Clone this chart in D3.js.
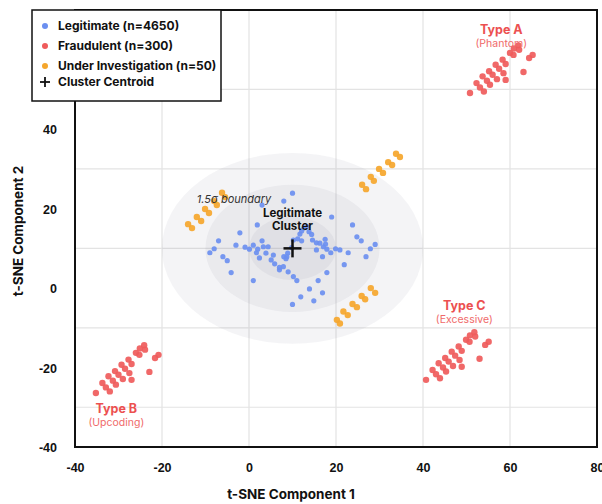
<!DOCTYPE html>
<html>
<head>
<meta charset="utf-8">
<title>t-SNE fraud clusters</title>
<script src="https://cdn.jsdelivr.net/npm/d3@7"></script>
<style type="text/css">
body { margin: 0; background: #fff; }
svg { font-family: Inter, "DejaVu Sans", sans-serif; display: block; }
.tick text { font-size: 12.5px; font-weight: 700; fill: #111; }
</style>
</head>
<body>
<div id="chart"></div>
<script>
// ticks and grid
var xTicks = [-40, -20, 0, 20, 40, 60, 80];
var yTicks = [-40, -20, 0, 20, 40];
var gridX = [-20, 0, 20, 40, 60];
var gridY = [-30, -10, 10, 30, 50];

// legitimate transactions (sample shown)
var legitPoints = [
  [10.0,23.9],[8.0,21.9],[3.0,20.9],[19.0,17.9],[1.9,15.9],[23.8,15.9],[-2.1,13.9],
  [-7.0,11.9],[-8.0,9.9],[-9.0,8.9],[-3.0,10.8],[-0.9,10.3],[0.1,9.8],[1.0,10.8],
  [2.0,9.8],[3.0,11.9],[1.7,8.9],[2.4,7.6],[-6.0,7.9],[-5.0,6.9],[-4.1,3.9],[1.0,1.9],
  [3.3,10.4],[4.4,10.4],[3.9,8.8],[5.1,7.1],[5.6,8.3],[5.9,6.1],[7.0,4.6],[7.0,5.2],
  [7.9,5.4],[8.5,7.4],[8.9,8.8],[8.0,7.9],[9.8,10.2],[10.2,12.1],[11.2,12.4],[11.7,13.6],
  [12.1,14.4],[12.6,15.1],[13.3,15.5],[13.8,14.2],[14.4,13.5],[14.6,12.1],[15.5,11.4],
  [15.5,9.6],[16.3,11.3],[17.1,10.4],[17.5,12.3],[17.6,11.1],[17.9,9.8],[18.8,8.9],
  [19.9,9.9],[20.9,9.6],[22.8,8.9],[16.9,7.9],[21.9,5.9],[24.8,12.9],[25.8,11.9],
  [27.9,9.9],[29.0,11.0],[26.9,7.9],[17.9,3.9],[15.9,1.9],[16.9,-1.2],[13.9,-0.2],
  [11.9,-2.2],[14.9,-3.2],[10.0,-4.1],[11.0,1.9],[10.2,2.9],[9.0,4.1],[12.1,11.9],[8.7,7.9]
];

// fraud clusters
var fraudTypeA = [
  [50.8,49.1],[52.3,51.6],[53.1,50.5],[54.0,49.5],[53.7,53.3],[54.7,52.2],[55.4,51.2],
  [55.2,54.6],[56.0,53.7],[57.0,52.6],[56.7,56.2],[57.5,55.2],[58.5,54.1],[58.3,57.5],
  [59.0,56.4],[59.0,52.4],[60.0,59.2],[60.9,60.3],[61.9,61.1],[60.8,58.7],[62.1,60.0],
  [63.1,54.4],[64.4,57.9],[65.2,58.7]
];
var fraudTypeB = [
  [-35.2,-26.4],[-33.7,-23.9],[-32.9,-25.0],[-32.0,-26.0],[-32.3,-22.2],[-31.3,-23.3],
  [-30.6,-24.3],[-30.8,-20.9],[-30.0,-21.8],[-29.0,-22.9],[-29.3,-19.3],[-28.5,-20.3],
  [-27.5,-21.4],[-27.7,-18.0],[-27.0,-19.1],[-27.0,-23.1],[-26.0,-16.3],[-25.1,-15.2],
  [-24.1,-14.4],[-25.2,-16.8],[-23.9,-15.5],[-22.9,-21.1],[-21.6,-17.6],[-20.8,-16.8]
];
var fraudTypeC = [
  [40.7,-23.1],[42.2,-20.6],[43.0,-21.7],[43.9,-22.7],[43.6,-18.9],[44.6,-20.0],
  [45.3,-21.0],[45.1,-17.6],[45.9,-18.5],[46.9,-19.6],[46.6,-16.0],[47.4,-17.0],
  [48.4,-18.1],[48.2,-14.7],[48.9,-15.8],[48.9,-19.8],[49.9,-13.0],[50.8,-11.9],
  [51.8,-11.1],[50.7,-13.5],[52.0,-12.2],[53.0,-17.8],[54.3,-14.3],[55.1,-13.5]
];

// under investigation
var investigationPoints = [
  [-14.0,16.1],[-13.1,15.1],[-12.0,17.9],[-11.0,16.9],[-10.1,19.9],[-9.2,18.9],
  [-8.0,21.9],[-7.4,20.9],[-6.2,24.0],[-5.5,22.9],
  [26.0,26.0],[26.9,24.9],[28.0,28.0],[28.7,27.0],[29.9,30.0],[30.8,29.0],
  [32.0,31.7],[32.9,31.0],[33.8,33.8],[34.7,33.0],
  [20.2,-8.0],[20.9,-8.9],[21.7,-5.9],[22.7,-6.8],[23.8,-4.0],[24.8,-4.8],
  [25.9,-2.0],[26.7,-2.8],[28.0,0.0],[29.0,-1.2]
];

var centroid = [10, 10];
// sigma rings (x, y radius in data units)
var rings = [[30, 24], [20, 16], [10, 8]];

var fraudLabels = [
  {title: "Type A", sub: "(Phantom)", x: 58, y: 64},
  {title: "Type B", sub: "(Upcoding)", x: -30.5, y: -31.5},
  {title: "Type C", sub: "(Excessive)", x: 49.5, y: -5.5}
];

var legendItems = [
  {label: "Legitimate (n=4650)", kind: "legit"},
  {label: "Fraudulent (n=300)", kind: "fraud"},
  {label: "Under Investigation (n=50)", kind: "invest"},
  {label: "Cluster Centroid", kind: "centroid"}
];

var colors = {legit: "#6b8ff0", fraud: "#ef5b5b", invest: "#f5a62c"};

var width = 602, height = 504;
var plotLeft = 75, plotRight = 597, plotTop = 10, plotBottom = 447;

var svg = d3.select("#chart").append("svg")
    .attr("width", width)
    .attr("height", height);

var x = d3.scaleLinear().domain([-40, 80]).range([plotLeft, plotRight]);
var y = d3.scaleLinear().domain([-40, 70]).range([plotBottom, plotTop]);

// grid
svg.append("g").selectAll("line").data(gridX).enter().append("line")
    .attr("x1", function(d) { return x(d); })
    .attr("x2", function(d) { return x(d); })
    .attr("y1", plotTop).attr("y2", plotBottom)
    .style("stroke", "#e3e3e3").style("stroke-width", 1.2);
svg.append("g").selectAll("line").data(gridY).enter().append("line")
    .attr("y1", function(d) { return y(d); })
    .attr("y2", function(d) { return y(d); })
    .attr("x1", plotLeft).attr("x2", plotRight)
    .style("stroke", "#e3e3e3").style("stroke-width", 1.2);

// density rings around the legitimate cluster
svg.append("g").selectAll("ellipse").data(rings).enter().append("ellipse")
    .attr("cx", x(centroid[0]))
    .attr("cy", y(centroid[1]))
    .attr("rx", function(d) { return x(d[0]) - x(0); })
    .attr("ry", function(d) { return y(0) - y(d[1]); })
    .style("fill", "#8a8a9a")
    .style("fill-opacity", 0.09);

function dots(data, color, r) {
  svg.append("g").selectAll("circle").data(data).enter().append("circle")
      .attr("cx", function(d) { return x(d[0]); })
      .attr("cy", function(d) { return y(d[1]); })
      .attr("r", r)
      .style("fill", color)
      .style("fill-opacity", 0.92);
}

dots(legitPoints, colors.legit, 2.6);
dots(fraudTypeA, colors.fraud, 3.2);
dots(fraudTypeB, colors.fraud, 3.2);
dots(fraudTypeC, colors.fraud, 3.2);
dots(investigationPoints, colors.invest, 3.2);

// cluster annotations
svg.append("text")
    .attr("x", x(-12)).attr("y", y(21.4))
    .style("font-size", "11px").style("font-style", "italic")
    .style("fill", "#333")
    .text("1.5\u03c3 boundary");

svg.append("text")
    .attr("text-anchor", "middle")
    .attr("x", x(centroid[0]))
    .attr("y", y(17.8))
    .style("font-size", "11.5px").style("font-weight", 700).style("fill", "#111")
    .text("Legitimate");
svg.append("text")
    .attr("text-anchor", "middle")
    .attr("x", x(centroid[0]))
    .attr("y", y(14.6))
    .style("font-size", "11.5px").style("font-weight", 700).style("fill", "#111")
    .text("Cluster");

// centroid cross
var cx = x(centroid[0]), cy = y(centroid[1]);
svg.append("line").attr("x1", cx - 9).attr("x2", cx + 9).attr("y1", cy).attr("y2", cy)
    .style("stroke", "#111").style("stroke-width", 2.5);
svg.append("line").attr("x1", cx).attr("x2", cx).attr("y1", cy - 9).attr("y2", cy + 9)
    .style("stroke", "#111").style("stroke-width", 2.5);

// fraud type labels
var fl = svg.append("g").selectAll("g").data(fraudLabels).enter().append("g");
fl.append("text")
    .attr("text-anchor", "middle")
    .attr("x", function(d) { return x(d.x); })
    .attr("y", function(d) { return y(d.y); })
    .style("font-size", "12.5px").style("font-weight", 700)
    .style("fill", "#ec5050")
    .text(function(d) { return d.title; });
fl.append("text")
    .attr("text-anchor", "middle")
    .attr("x", function(d) { return x(d.x); })
    .attr("y", function(d) { return y(d.y) + 13; })
    .style("font-size", "10.5px")
    .style("fill", "#f06a6a")
    .text(function(d) { return d.sub; });

// axes
var fmt = function(d) { return String(d); };
var xAxis = svg.append("g")
    .attr("transform", "translate(0," + plotBottom + ")")
    .call(d3.axisBottom(x).tickValues(xTicks).tickFormat(fmt).tickSize(0).tickPadding(16));
xAxis.select(".domain").remove();

var yAxis = svg.append("g")
    .attr("transform", "translate(" + plotLeft + ",0)")
    .call(d3.axisLeft(y).tickValues(yTicks).tickFormat(fmt).tickSize(0).tickPadding(18));
yAxis.select(".domain").remove();
yAxis.selectAll(".tick text").attr("dy", "0.36em");

// frame
svg.append("rect")
    .attr("x", plotLeft).attr("y", plotTop)
    .attr("width", plotRight - plotLeft).attr("height", plotBottom - plotTop)
    .style("fill", "none").style("stroke", "#111").style("stroke-width", 2);

svg.append("text")
    .attr("text-anchor", "middle")
    .attr("x", 291).attr("y", 499)
    .style("font-size", "13.5px").style("font-weight", 700).style("fill", "#111")
    .text("t-SNE Component 1");

svg.append("text")
    .attr("text-anchor", "middle")
    .attr("transform", "translate(23," + 231 + ")rotate(-90)")
    .style("font-size", "13.5px").style("font-weight", 700).style("fill", "#111")
    .text("t-SNE Component 2");

// legend
var legend = svg.append("g");
legend.append("rect")
    .attr("x", 32).attr("y", 10).attr("width", 189).attr("height", 91)
    .style("fill", "#fff").style("stroke", "#111").style("stroke-width", 1.5);

var legendY = [26, 46, 66, 82];
var li = legend.selectAll("g.item").data(legendItems).enter().append("g")
    .attr("class", "item")
    .attr("transform", function(d, i) { return "translate(45," + legendY[i] + ")"; });

li.filter(function(d) { return d.kind != "centroid"; })
  .append("circle")
    .attr("r", 3)
    .style("fill", function(d) { return colors[d.kind]; });

var plus = li.filter(function(d) { return d.kind == "centroid"; });
plus.append("line").attr("x1", -5).attr("x2", 5).style("stroke", "#111").style("stroke-width", 1.8);
plus.append("line").attr("y1", -5).attr("y2", 5).style("stroke", "#111").style("stroke-width", 1.8);

li.append("text")
    .attr("x", 13).attr("dy", "0.36em")
    .style("font-size", "12px").style("font-weight", 700).style("fill", "#111")
    .text(function(d) { return d.label; });
</script>
</body>
</html>
